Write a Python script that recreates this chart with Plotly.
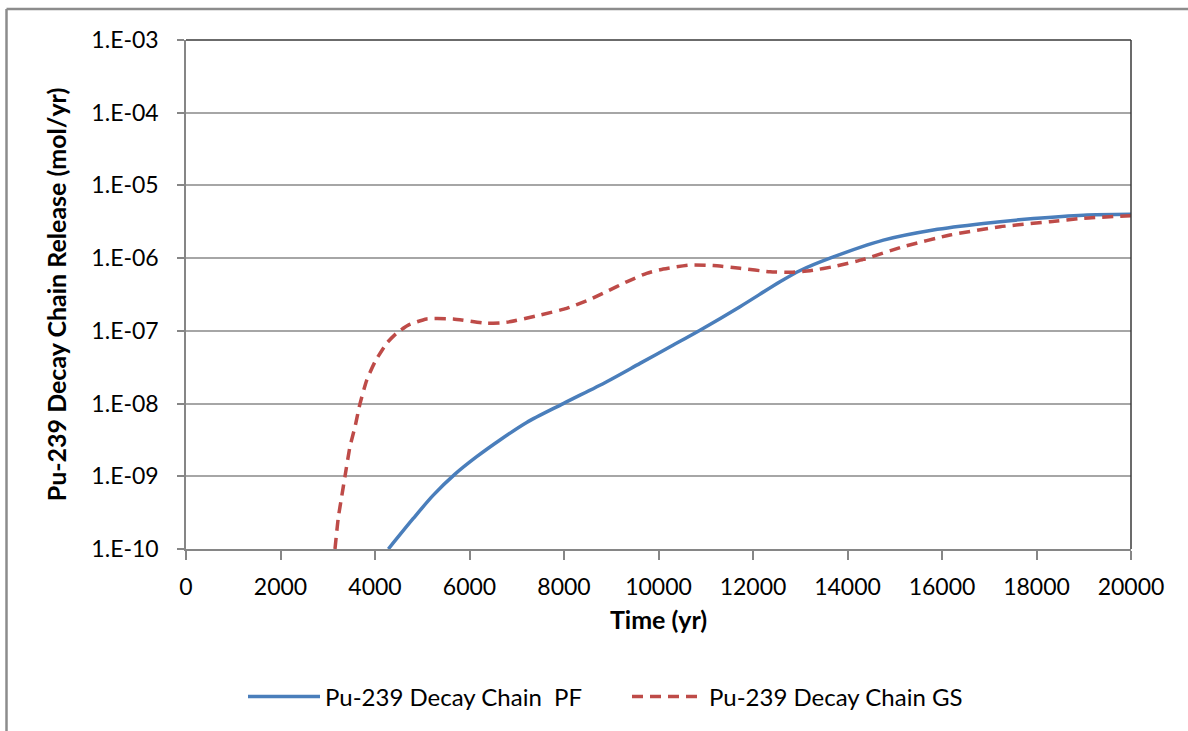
import plotly.graph_objects as go

# ---- data ----
pf_time = [4283, 4810, 5234, 5693, 6152, 6645, 7210, 7985, 8904, 9608, 10313,
           10878, 11725, 12571, 13000, 13630, 14760, 15815, 16875, 17935, 18990, 20000]
pf_release = [1.0e-10, 2.63e-10, 5.5e-10, 1.07e-9, 1.86e-9, 3.16e-9, 5.5e-9, 1.0e-8,
              2.0e-8, 3.57e-8, 6.38e-8, 1.02e-7, 2.15e-7, 4.73e-7, 6.76e-7, 1.0e-6,
              1.77e-6, 2.44e-6, 3.0e-6, 3.5e-6, 3.9e-6, 4.0e-6]

gs_time = [3153, 3224, 3295, 3365, 3471, 3577, 3683, 3824, 4000, 4248, 4460, 4705,
           5093, 5657, 6360, 6783, 7492, 8057, 8515, 8904, 9327, 9750, 10101, 10667,
           11160, 11725, 12360, 12800, 13205, 13770, 14335, 15181, 16169, 17228,
           18286, 18990, 20000]
gs_release = [1.0e-10, 2.72e-10, 5.25e-10, 1.0e-9, 2.57e-9, 4.79e-9, 1.0e-8, 2.09e-8,
              3.76e-8, 6.76e-8, 9.33e-8, 1.2e-7, 1.46e-7, 1.46e-7, 1.27e-7, 1.31e-7,
              1.65e-7, 2.04e-7, 2.65e-7, 3.47e-7, 4.73e-7, 6.19e-7, 7.08e-7, 8.05e-7,
              7.9e-7, 7.24e-7, 6.5e-7, 6.4e-7, 6.7e-7, 7.8e-7, 9.6e-7, 1.44e-6, 2.08e-6,
              2.7e-6, 3.17e-6, 3.53e-6, 3.84e-6]

series_names = ["Pu-239 Decay Chain  PF", "Pu-239 Decay Chain GS"]
y_tick_vals = [1e-10, 1e-9, 1e-8, 1e-7, 1e-6, 1e-5, 1e-4, 1e-3]
y_tick_text = ["1.E-10", "1.E-09", "1.E-08", "1.E-07", "1.E-06", "1.E-05", "1.E-04", "1.E-03"]
x_tick_vals = list(range(0, 20001, 2000))
x_tick_text = [str(v) for v in x_tick_vals]

FONT = "Lato"
W, H = 1188, 731
L, R, T, B = 186, 57, 40, 182
pw, ph = W - L - R, H - T - B

def px_x(p):
    return (p - L) / pw

def px_y(p):
    return (H - B - p) / ph

fig = go.Figure()
fig.add_trace(go.Scatter(x=pf_time, y=pf_release, mode="lines", name=series_names[0],
                         line=dict(color="#4A7EBB", width=3.5, shape="spline", smoothing=0.8)))
fig.add_trace(go.Scatter(x=gs_time, y=gs_release, mode="lines", name=series_names[1],
                         line=dict(color="#BE4B48", width=3.5, dash="11px,7px",
                                   shape="spline", smoothing=0.5)))

fig.update_layout(
    width=W, height=H,
    margin=dict(l=L, r=R, t=T, b=B),
    paper_bgcolor="white", plot_bgcolor="white",
    font=dict(family=FONT, size=23, color="#000000"),
    legend=dict(orientation="h", xref="container", yref="container",
                x=243 / W, xanchor="left", y=1 - 697 / H, yanchor="middle",
                font=dict(family=FONT, size=24, color="#000000"),
                itemwidth=72, entrywidth=297, entrywidthmode="pixels", tracegroupgap=0),
    xaxis=dict(range=[0, 20000], tickvals=x_tick_vals, ticktext=x_tick_text,
               showgrid=False, zeroline=False,
               showline=True, linecolor="#868686", linewidth=1.5,
               ticks="outside", ticklen=9, tickcolor="#868686", tickwidth=1.5,
               ticklabelstandoff=8,
               tickfont=dict(family=FONT, size=23, color="#000000"),
               title=dict(text="Time (yr)", standoff=12,
                          font=dict(family=FONT, size=25, color="#000000", weight="bold"))),
    yaxis=dict(type="log", range=[-10, -3], tickvals=y_tick_vals, ticktext=y_tick_text,
               showgrid=True, gridcolor="#a6a6a6", gridwidth=1.5, zeroline=False,
               showline=True, linecolor="#868686", linewidth=1.5,
               ticks="outside", ticklen=7, tickcolor="#868686", tickwidth=1.5,
               ticklabelstandoff=14,
               tickfont=dict(family=FONT, size=23, color="#000000"),
               title=dict(text="Pu-239 Decay Chain Release (mol/yr)", standoff=18,
                          font=dict(family=FONT, size=25, color="#000000", weight="bold"))),
    shapes=[
        # plot-area border on top and right
        dict(type="line", xref="paper", yref="paper", x0=0, x1=1, y0=1, y1=1,
             line=dict(color="#3a3a3a", width=1.5)),
        dict(type="line", xref="paper", yref="paper", x0=1, x1=1, y0=0, y1=1,
             line=dict(color="#3a3a3a", width=1.5)),
        # outer chart frame (top and left visible)
        dict(type="line", xref="paper", yref="paper", x0=px_x(6.5), x1=px_x(1300),
             y0=px_y(9), y1=px_y(9), line=dict(color="#8c8c8c", width=2.5)),
        dict(type="line", xref="paper", yref="paper", x0=px_x(6.5), x1=px_x(6.5),
             y0=px_y(9), y1=px_y(800), line=dict(color="#8c8c8c", width=2.5)),
    ],
)

fig.write_html("out.html")
